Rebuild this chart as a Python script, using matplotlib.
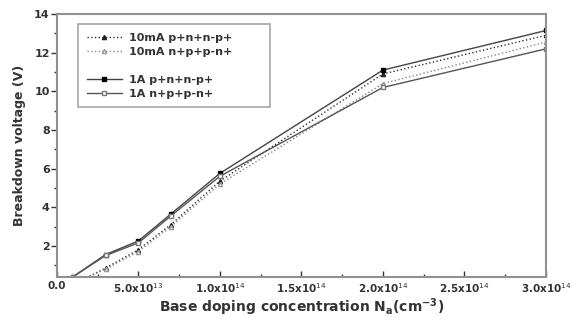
import matplotlib
matplotlib.use('Agg')
import matplotlib.pyplot as plt
from matplotlib.lines import Line2D
from matplotlib.ticker import MultipleLocator

# base doping (cm^-3) and breakdown voltage (V)
doping = [1e13, 3e13, 5e13, 7e13, 1e14, 2e14, 3e14]
v_10mA_pn = [0.0, 0.85, 1.8, 3.1, 5.35, 10.9, 12.9]
v_10mA_np = [0.0, 0.8, 1.7, 3.0, 5.2, 10.4, 12.55]
v_1A_pn = [0.4, 1.55, 2.25, 3.65, 5.75, 11.1, 13.15]
v_1A_np = [0.4, 1.5, 2.15, 3.55, 5.6, 10.2, 12.2]

labels = ['10mA p+n+n-p+', '10mA n+p+p-n+', '1A p+n+n-p+', '1A n+p+p-n+']
xticks = [0, 5e13, 1e14, 1.5e14, 2e14, 2.5e14, 3e14]
xticklabels = ['0.0', '5.0x10$^{13}$', '1.0x10$^{14}$', '1.5x10$^{14}$',
               '2.0x10$^{14}$', '2.5x10$^{14}$', '3.0x10$^{14}$']

fig = plt.figure(figsize=(5.79, 3.2), dpi=100)
ax = fig.add_axes([0.098, 0.134, 0.845, 0.822])

l1, = ax.plot(doping, v_10mA_pn, ls=':', c='#333333', lw=1.0, marker='^', ms=3,
              mfc='#222222', mec='#222222')
l2, = ax.plot(doping, v_10mA_np, ls=':', c='#888888', lw=1.0, marker='^', ms=3,
              mfc='white', mec='#999999')
l3, = ax.plot(doping, v_1A_pn, ls='-', c='#444444', lw=1.0, marker='s', ms=3.5,
              mfc='black', mec='black')
l4, = ax.plot(doping, v_1A_np, ls='-', c='#555555', lw=1.0, marker='s', ms=3.5,
              mfc='white', mec='#777777')

ax.set_xlim(0, 3e14)
ax.set_ylim(0.38, 14)
ax.set_xticks(xticks)
ax.set_xticklabels(xticklabels)
ax.xaxis.set_minor_locator(MultipleLocator(2.5e13))
ax.set_yticks([2, 4, 6, 8, 10, 12, 14])
ax.yaxis.set_minor_locator(MultipleLocator(1))
ax.tick_params(axis='x', which='both', direction='in', labelsize=7.5, colors='#333333', pad=3)
ax.tick_params(axis='x', which='major', length=4, width=1)
ax.tick_params(axis='x', which='minor', length=2, width=1)
ax.tick_params(axis='y', which='both', direction='out', labelsize=8, colors='#333333', pad=1)
ax.tick_params(axis='y', which='major', length=4, width=1)
ax.tick_params(axis='y', which='minor', length=2, width=1)
for t in ax.get_xticklabels() + ax.get_yticklabels():
    t.set_fontweight('bold')
for s in ax.spines.values():
    s.set_color('#909090')
    s.set_linewidth(1.5)

ax.set_xlabel(r'Base doping concentration N$_{\mathbf{a}}$(cm$^{\mathbf{-3}}$)',
              fontsize=10, fontweight='bold', color='#333333', labelpad=1)
ax.set_ylabel('Breakdown voltage (V)', fontsize=9, fontweight='bold', color='#333333', labelpad=6)

blank = Line2D([], [], ls='none')
leg = ax.legend([l1, l2, blank, l3, l4], [labels[0], labels[1], '', labels[2], labels[3]],
                loc='upper left', bbox_to_anchor=(0.043, 0.639, 0.393, 0.323), mode='expand',
                fontsize=8, frameon=True, fancybox=False, edgecolor='#909090',
                handlelength=3.2, borderpad=0.8, labelspacing=0.35, borderaxespad=0,
                handletextpad=0.6)
leg.get_frame().set_linewidth(1.2)
for t in leg.get_texts():
    t.set_fontweight('bold')
    t.set_color('#333333')

fig.savefig('out.png', dpi=100)
